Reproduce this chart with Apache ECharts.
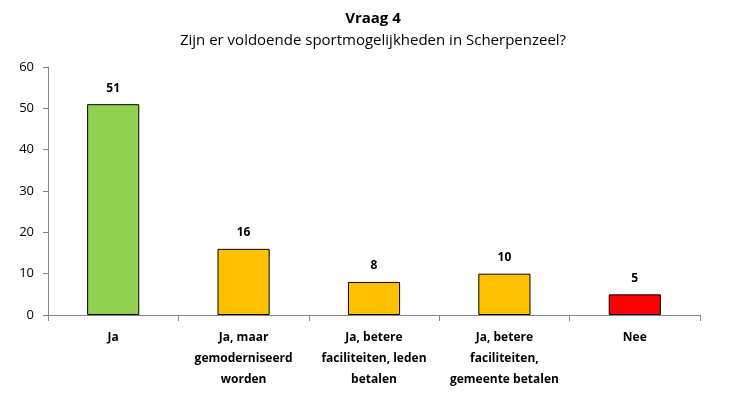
<!DOCTYPE html>
<html>
<head>
<meta charset="utf-8">
<script src="https://cdn.jsdelivr.net/npm/echarts@6/dist/echarts.min.js"></script>
<style>
  html, body { margin: 0; padding: 0; background: #fff; }
  #chart { width: 746px; height: 399px; }
</style>
</head>
<body>
<div id="chart"></div>
<script>
var categories = ['Ja', 'Ja, maar\ngemoderniseerd\nworden', 'Ja, betere\nfaciliteiten, leden\nbetalen', 'Ja, betere\nfaciliteiten,\ngemeente betalen', 'Nee']
var values = [51, 16, 8, 10, 5]
var barColors = ['#92D050', '#FFC000', '#FFC000', '#FFC000', '#FF0000']
var yTicks = { min: 0, max: 60, interval: 10 }

var font = '"Open Sans", "Liberation Sans", sans-serif'
var chart = echarts.init(document.getElementById('chart'))
var option = {
  animation: false,
  textStyle: { fontFamily: font },
  title: {
    text: 'Vraag 4',
    subtext: 'Zijn er voldoende sportmogelijkheden in Scherpenzeel?',
    left: 'center',
    top: 6,
    itemGap: 7,
    textStyle: { fontFamily: font, fontSize: 15, fontWeight: 'bold', color: '#000' },
    subtextStyle: { fontFamily: font, fontSize: 15, color: '#000' }
  },
  grid: { left: 48, right: 46, top: 67, bottom: 84 },
  xAxis: {
    type: 'category',
    data: categories,
    axisLine: { lineStyle: { color: '#868686', width: 1 } },
    axisTick: { show: true, length: 6, lineStyle: { color: '#868686' } },
    axisLabel: {
      interval: 0,
      color: '#000',
      fontFamily: font,
      fontSize: 12,
      fontWeight: 'bold',
      lineHeight: 21,
      margin: 12
    }
  },
  yAxis: {
    type: 'value',
    min: yTicks.min,
    max: yTicks.max,
    interval: yTicks.interval,
    axisLine: { show: true, lineStyle: { color: '#868686', width: 1 } },
    axisTick: { show: true, length: 5, lineStyle: { color: '#868686' } },
    splitLine: { show: false },
    axisLabel: { color: '#000', fontFamily: font, fontSize: 13, margin: 14 }
  },
  series: [{
    type: 'bar',
    barWidth: '40%',
    data: values.map(function (v, i) {
      return { value: v, itemStyle: { color: barColors[i] } }
    }),
    itemStyle: { borderColor: '#000', borderWidth: 1 },
    label: {
      show: true,
      position: 'top',
      distance: 10,
      color: '#000',
      fontFamily: font,
      fontSize: 12,
      fontWeight: 'bold'
    }
  }]
}
chart.setOption(option)
</script>
</body>
</html>
